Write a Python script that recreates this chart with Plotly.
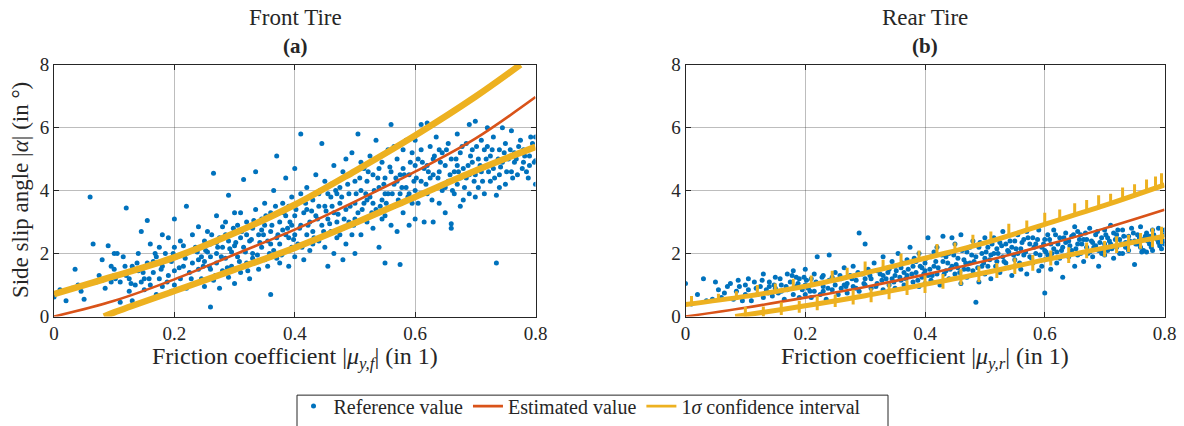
import plotly.graph_objects as go

# ---------------- data: front tire ----------------
front_ref_x = [
0.0,0.01,0.02,0.03,0.035,0.045,0.05,0.06,0.065,0.075,0.08,0.085,0.09,0.095,0.1,0.1,0.095,0.07,0.04,0.08,
0.10,0.105,0.11,0.11,0.115,0.12,0.12,0.125,0.13,0.13,0.135,0.14,0.14,0.145,0.15,0.15,0.155,0.155,0.16,0.16,
0.165,0.17,0.17,0.175,0.175,0.18,0.18,0.185,0.19,0.19,0.195,0.195,0.2,0.2,0.2,0.2,0.18,0.165,0.125,0.145,
0.205,0.21,0.21,0.215,0.22,0.22,0.22,0.225,0.23,0.23,0.235,0.235,0.24,0.24,0.245,0.245,0.25,0.25,0.25,0.255,
0.255,0.26,0.26,0.26,0.265,0.265,0.27,0.27,0.27,0.275,0.275,0.28,0.28,0.28,0.285,0.285,0.29,0.29,0.29,0.295,
0.295,0.3,0.3,0.3,0.3,0.215,0.24,0.27,0.26,0.285,
0.305,0.305,0.31,0.31,0.315,0.315,0.32,0.32,0.325,0.325,0.33,0.33,0.335,0.335,0.34,0.34,0.345,0.345,0.35,0.35,
0.35,0.355,0.355,0.36,0.36,0.36,0.365,0.365,0.37,0.37,0.37,0.375,0.375,0.38,0.38,0.38,0.385,0.385,0.39,0.39,
0.39,0.395,0.395,0.4,0.4,0.4,0.4,0.31,0.33,0.345,0.36,0.375,0.385,0.395,0.32,
0.405,0.405,0.41,0.41,0.415,0.415,0.42,0.42,0.425,0.425,0.43,0.43,0.435,0.435,0.44,0.44,0.445,0.445,0.45,0.45,
0.45,0.455,0.455,0.46,0.46,0.465,0.465,0.47,0.47,0.475,0.475,0.48,0.48,0.48,0.485,0.485,0.49,0.49,0.495,0.495,
0.5,0.5,0.5,0.5,0.41,0.43,0.44,0.46,0.47,0.49,0.42,0.465,0.485,0.455,0.475,
0.505,0.505,0.51,0.51,0.515,0.515,0.52,0.52,0.525,0.525,0.53,0.53,0.535,0.535,0.54,0.54,0.545,0.545,0.55,0.55,
0.55,0.555,0.555,0.56,0.56,0.56,0.565,0.565,0.57,0.57,0.575,0.575,0.58,0.58,0.585,0.585,0.59,0.59,0.595,0.595,
0.6,0.6,0.6,0.52,0.54,0.55,0.57,0.58,0.59,0.51,0.53,0.565,0.545,0.575,0.6,
0.605,0.605,0.61,0.61,0.615,0.615,0.62,0.62,0.625,0.625,0.63,0.63,0.635,0.635,0.64,0.64,0.645,0.645,0.65,0.65,
0.655,0.655,0.66,0.66,0.66,0.665,0.665,0.67,0.67,0.675,0.675,0.68,0.68,0.685,0.685,0.69,0.69,0.695,0.695,0.7,
0.7,0.7,0.62,0.64,0.65,0.67,0.69,0.61,0.63,0.675,
0.705,0.705,0.71,0.71,0.715,0.715,0.72,0.72,0.725,0.725,0.73,0.73,0.735,0.735,0.74,0.74,0.745,0.745,0.75,0.75,
0.755,0.76,0.76,0.765,0.77,0.775,0.78,0.78,0.785,0.79,0.795,0.8,0.8,0.8,0.72,0.74,0.765,0.79,
0.252,0.258,0.262,0.268,0.272,0.278,0.282,0.288,0.292,0.298,0.302,0.308,0.312,0.318,0.322,0.328,0.332,0.338,0.342,0.348,
0.352,0.358,0.362,0.368,0.372,0.378,0.382,0.388,0.392,0.398,0.402,0.408,0.412,0.418,0.422,0.428,0.432,0.438,0.442,0.448,
0.452,0.458,0.462,0.468,0.472,0.478,0.482,0.488,0.492,0.498,0.502,0.508,0.512,0.518,0.522,0.528,0.532,0.538,0.542,0.548,
0.552,0.558,0.562,0.568,0.572,0.578,0.582,0.588,0.592,0.598,0.602,0.608,0.612,0.618,0.622,0.628,0.632,0.638,0.642,0.648,
0.652,0.658,0.662,0.668,0.672,0.678,0.682,0.688,0.692,0.698,0.702,0.708,0.712,0.718,0.722,0.728,0.732,0.738,0.742,0.748,
0.752,0.758,0.762,0.768,0.772,0.778,0.782,0.788,0.792,0.798,
0.102,0.118,0.128,0.138,0.148,0.158,0.168,0.178,0.188,0.198,0.208,0.218,0.228,0.238,0.248,
]
front_ref_y = [
0.62,0.85,0.5,0.9,1.5,0.8,0.55,3.8,2.3,1.3,1.8,0.9,2.25,1.6,1.3,2.0,1.1,1.1,1.0,1.15,
1.5,2.0,0.45,1.1,1.9,3.45,1.3,0.8,1.6,0.5,1.0,1.45,2.0,2.7,1.2,0.85,3.05,1.7,2.3,1.0,
1.4,1.9,0.7,1.2,2.2,1.6,0.95,2.0,1.3,2.5,1.75,0.8,3.1,2.2,1.45,1.0,2.6,1.75,1.2,1.1,
1.9,1.2,2.4,1.6,3.5,0.9,2.0,1.4,2.6,1.7,1.05,2.2,1.5,2.85,1.9,1.2,2.4,0.95,1.75,2.7,
2.05,0.3,1.5,2.3,4.55,1.15,2.0,3.2,1.7,2.5,0.9,2.85,1.45,2.2,1.85,3.0,3.85,1.25,2.4,2.05,
1.6,2.7,1.05,2.25,3.3,2.25,1.8,2.35,1.9,2.6,
1.9,2.9,1.4,2.5,4.35,2.2,1.7,3.0,2.4,1.2,2.8,2.0,4.6,3.4,1.5,2.6,2.2,3.1,1.8,2.9,
3.6,2.4,1.6,0.7,2.7,3.3,2.1,4.0,5.1,2.5,1.85,3.0,2.3,3.6,2.0,2.75,4.4,3.2,1.6,2.5,
3.5,2.9,2.2,3.2,4.7,2.6,1.9,3.3,1.85,2.75,2.3,1.7,2.6,3.8,2.6,
2.3,3.6,5.8,2.9,1.8,3.3,2.6,4.1,3.0,2.1,3.7,2.7,4.5,3.2,2.4,3.9,5.5,2.9,3.5,2.2,
4.3,1.6,3.1,2.7,3.8,4.8,3.3,2.5,3.0,4.1,3.6,1.8,2.8,4.6,3.4,2.3,3.9,3.0,5.2,2.6,
3.6,4.3,2.0,3.1,3.9,2.3,3.5,4.2,3.9,4.5,3.4,2.0,5.0,3.9,2.6,
5.8,3.3,4.0,2.6,4.7,3.6,3.0,4.3,5.1,3.8,2.8,4.5,3.4,5.6,2.2,4.1,3.7,4.9,1.7,3.2,
4.4,5.3,3.9,6.1,2.9,4.6,3.5,4.2,5.0,2.7,1.65,3.9,4.7,3.3,5.6,4.1,2.9,4.5,3.6,5.2,
4.0,3.1,4.8,3.7,4.7,3.9,4.3,5.3,3.9,4.9,3.6,5.4,3.1,4.5,5.6,
3.6,5.0,6.1,4.3,3.0,4.7,6.15,3.9,5.4,4.4,3.0,5.0,4.1,5.7,3.6,4.6,5.2,4.0,3.3,4.8,
5.5,4.3,2.8,2.95,5.0,3.9,4.6,5.8,4.2,3.5,5.2,4.7,3.7,5.5,4.4,6.1,3.9,4.9,5.3,4.5,
3.8,6.2,4.8,5.3,4.1,4.8,4.5,5.3,4.5,4.4,
5.0,4.1,5.6,4.6,3.9,5.3,4.8,6.0,4.3,5.1,5.7,4.7,1.7,3.85,5.3,4.5,6.0,4.9,4.2,5.5,
5.0,4.6,5.9,5.2,4.5,5.6,4.9,5.3,4.6,5.1,5.5,4.2,5.7,4.95,5.4,4.1,4.9,4.8,
2.1,1.6,2.6,1.3,2.2,1.9,2.5,1.55,2.15,2.8,2.35,1.75,2.7,2.05,1.45,2.45,3.05,1.95,2.35,2.6,
3.2,2.0,2.9,3.5,2.6,1.95,3.3,2.8,3.0,2.45,3.4,2.8,2.2,3.6,2.9,3.35,2.5,3.1,4.0,2.7,
3.35,2.95,3.5,4.0,3.25,3.8,3.1,4.2,3.5,2.9,3.9,4.4,3.4,3.9,4.6,3.3,4.0,4.4,3.5,4.2,
3.6,4.75,3.9,4.4,3.7,4.1,4.5,3.8,4.9,4.3,4.4,3.9,4.9,4.2,4.6,3.7,5.1,4.4,4.9,4.2,
5.3,4.5,4.0,5.0,4.6,5.4,4.1,4.8,5.1,4.3,5.4,4.8,4.3,5.0,4.6,5.3,4.4,5.0,4.75,5.2,
4.6,5.3,4.4,5.0,5.4,4.7,5.1,4.4,5.7,4.9,
1.2,1.6,1.05,1.7,1.4,1.2,2.0,1.5,1.1,2.0,1.55,1.85,1.2,2.05,1.6,
]
front_est_x = [0, 0.1, 0.2, 0.3, 0.4, 0.5, 0.6, 0.7, 0.8]
front_est_y = [0, 0.5, 1.18, 1.97, 2.76, 3.65, 4.6, 5.65, 6.97]
front_up_x = [0, 0.1, 0.2, 0.3, 0.4, 0.5, 0.6, 0.7, 0.775]
front_up_y = [0.71, 1.28, 1.88, 2.65, 3.55, 4.62, 5.75, 6.98, 8.0]
front_lo_x = [0.083, 0.1, 0.2, 0.3, 0.4, 0.5, 0.6, 0.7, 0.8]
front_lo_y = [0, 0.13, 0.81, 1.49, 2.18, 2.97, 3.8, 4.63, 5.39]

# ---------------- data: rear tire ----------------
rear_ref_x = [
0.0,0.01,0.02,0.03,0.035,0.045,0.05,0.06,0.065,0.075,0.08,0.085,0.09,0.095,0.1,0.1,
0.105,0.11,0.115,0.12,0.125,0.13,0.13,0.135,0.14,0.145,0.15,0.15,0.155,0.16,0.165,0.17,0.17,0.175,0.18,0.18,
0.185,0.19,0.19,0.195,0.2,0.2,0.2,0.16,0.14,0.185,
0.205,0.21,0.21,0.215,0.22,0.22,0.225,0.23,0.23,0.235,0.24,0.24,0.245,0.25,0.25,0.255,0.26,0.26,0.265,0.27,
0.27,0.275,0.28,0.28,0.285,0.29,0.29,0.295,0.3,0.3,0.3,0.215,0.245,0.265,0.285,0.23,
0.305,0.31,0.31,0.315,0.32,0.325,0.33,0.33,0.335,0.34,0.34,0.345,0.35,0.35,0.355,0.36,0.36,0.365,0.37,0.37,
0.375,0.38,0.38,0.385,0.39,0.39,0.395,0.4,0.4,0.4,0.32,0.345,0.365,0.385,0.35,0.395,0.33,
0.405,0.405,0.41,0.41,0.415,0.42,0.42,0.425,0.43,0.43,0.435,0.44,0.44,0.445,0.45,0.45,0.455,0.46,0.46,0.465,
0.47,0.47,0.475,0.48,0.48,0.485,0.485,0.49,0.49,0.495,0.5,0.5,0.5,0.415,0.435,0.455,0.475,0.495,0.445,0.465,
0.505,0.505,0.51,0.51,0.515,0.52,0.52,0.525,0.53,0.53,0.535,0.54,0.54,0.545,0.55,0.55,0.555,0.56,0.56,0.565,
0.57,0.57,0.575,0.58,0.58,0.585,0.59,0.59,0.595,0.6,0.6,0.6,0.6,0.515,0.525,0.545,0.565,0.575,0.585,0.595,
0.535,0.555,
0.605,0.605,0.61,0.61,0.615,0.62,0.62,0.625,0.63,0.63,0.635,0.64,0.64,0.645,0.65,0.65,0.655,0.66,0.66,0.665,
0.67,0.67,0.675,0.68,0.68,0.685,0.69,0.69,0.695,0.7,0.7,0.7,0.615,0.625,0.635,0.645,0.655,0.665,0.675,0.685,
0.695,0.655,
0.705,0.705,0.71,0.71,0.715,0.72,0.72,0.725,0.73,0.73,0.735,0.74,0.74,0.745,0.75,0.75,0.755,0.76,0.76,0.765,
0.77,0.77,0.775,0.78,0.78,0.785,0.79,0.79,0.795,0.8,0.8,0.8,0.715,0.735,0.755,0.775,0.725,0.765,
0.202,0.208,0.218,0.228,0.238,0.248,0.258,0.268,0.278,0.288,0.298,0.308,0.318,0.328,0.338,0.348,
0.352,0.358,0.362,0.368,0.372,0.378,0.382,0.388,0.392,0.398,0.402,0.408,0.412,0.418,0.422,0.428,0.432,0.438,0.442,0.448,
0.452,0.458,0.462,0.468,0.472,0.478,0.482,0.488,0.492,0.498,
0.502,0.508,0.512,0.518,0.522,0.528,0.532,0.538,0.542,0.548,0.552,0.558,0.562,0.568,0.572,0.578,0.582,0.588,0.592,0.598,
0.602,0.608,0.612,0.618,0.622,0.628,0.632,0.638,0.642,0.648,
0.652,0.658,0.662,0.668,0.672,0.678,0.682,0.688,0.692,0.698,0.702,0.708,0.712,0.718,0.722,0.728,0.732,0.738,0.742,0.748,
0.752,0.758,0.762,0.768,0.772,0.778,0.782,0.788,0.792,0.798,
0.055,0.07,0.088,0.105,0.118,0.128,0.138,0.148,0.158,0.168,0.178,0.188,0.198,
]
rear_ref_y = [
1.05,0.4,0.7,1.2,0.5,0.55,1.1,0.6,0.75,1.05,0.55,0.8,0.95,0.5,0.7,1.0,
0.85,0.5,1.1,0.7,0.95,1.35,0.6,0.85,1.1,0.65,0.9,1.25,0.75,1.0,0.55,1.35,0.85,1.1,0.7,1.45,
0.95,0.6,1.2,0.85,1.5,1.0,0.7,0.8,0.95,1.25,
0.9,1.2,0.6,0.8,1.9,1.05,0.7,1.3,0.95,0.55,1.95,1.15,0.85,1.4,1.0,0.7,1.2,0.9,1.55,1.05,
0.75,1.3,0.95,1.6,1.15,2.65,0.8,1.35,2.3,1.0,1.2,1.35,1.25,1.0,0.9,0.8,
1.5,0.9,1.2,1.7,1.05,1.35,0.85,1.9,1.2,1.5,1.0,1.75,1.3,0.9,2.0,1.15,1.55,1.0,1.8,1.3,
2.2,1.1,1.6,1.4,0.95,2.0,1.25,1.7,1.45,1.05,1.45,1.2,1.4,1.75,1.6,1.55,1.3,
1.3,2.5,1.9,1.15,1.6,2.2,1.35,1.0,1.75,2.55,1.45,1.2,2.0,1.6,2.3,1.35,1.85,1.05,2.6,1.5,
2.05,1.25,1.7,2.4,1.45,0.45,1.9,1.1,2.2,1.6,1.85,2.5,1.35,2.05,1.9,1.55,2.2,2.0,2.5,1.8,
1.6,2.2,1.95,1.2,2.5,1.75,2.15,1.4,2.7,1.9,2.3,1.55,2.05,1.3,2.4,1.8,2.6,1.5,2.15,1.95,
2.7,1.35,2.3,1.7,2.5,2.0,1.45,2.75,2.2,1.8,0.75,2.45,2.1,2.0,2.35,2.2,2.45,1.9,2.3,1.6,
1.7,2.0,
2.6,1.95,2.3,1.5,2.75,2.05,1.7,2.5,2.2,1.25,2.65,1.9,2.4,2.1,2.85,1.6,2.3,2.0,2.6,1.75,
2.45,2.2,2.8,1.9,2.35,2.6,2.1,1.6,2.5,2.3,2.75,1.95,2.15,1.85,2.35,2.55,1.95,2.45,2.05,2.25,
2.0,2.7,
2.5,2.1,2.9,2.3,1.85,2.6,2.2,2.45,2.0,2.75,2.35,2.55,2.1,2.8,1.65,2.4,2.6,2.2,2.85,2.45,
2.05,2.65,2.3,2.75,2.1,2.5,2.35,2.8,2.15,2.6,2.3,2.75,2.65,2.2,2.3,2.55,2.0,2.1,
1.15,0.8,1.1,1.25,0.9,1.15,1.3,0.95,1.2,1.4,1.05,1.3,0.95,1.15,1.4,1.1,
1.45,1.25,1.7,1.2,1.5,1.35,1.85,1.15,1.6,1.35,1.85,1.5,1.3,1.75,1.55,1.95,1.35,1.7,1.5,1.95,
1.65,1.4,2.1,1.7,1.5,1.95,1.75,1.55,2.35,1.7,
2.05,1.8,2.3,1.6,2.0,2.25,1.75,2.1,2.4,1.95,2.15,1.7,2.35,2.05,2.5,1.85,2.2,2.45,1.95,2.3,
2.05,2.45,2.0,2.6,2.3,2.1,2.5,1.95,2.25,2.6,
2.15,2.45,2.3,2.65,2.0,2.4,2.2,2.7,2.35,2.1,2.6,2.4,2.15,2.45,2.75,2.3,2.55,2.2,2.4,2.65,
2.3,2.5,2.05,2.55,2.4,2.2,2.6,2.45,2.25,2.4,
0.85,0.95,1.15,1.2,0.9,1.15,0.75,1.0,1.2,0.95,1.3,1.05,1.25,
]
rear_est_x = [0, 0.1, 0.2, 0.3, 0.4, 0.5, 0.6, 0.7, 0.8]
rear_est_y = [0, 0.28, 0.6, 0.94, 1.33, 1.76, 2.26, 2.8, 3.39]
rear_up_x = [0, 0.1, 0.2, 0.3, 0.4, 0.5, 0.6, 0.7, 0.8]
rear_up_y = [0.38, 0.64, 0.96, 1.38, 1.85, 2.34, 2.93, 3.53, 4.18]
rear_lo_x = [0.083, 0.1, 0.2, 0.3, 0.4, 0.5, 0.6, 0.7, 0.8]
rear_lo_y = [0, 0.05, 0.34, 0.66, 1.02, 1.39, 1.8, 2.18, 2.55]
# vertical spikes on the rear confidence bands: x, bottom, top
rear_up_spk_x = [0.01,0.055,0.085,0.12,0.15,0.18,0.21,0.245,0.27,0.3,0.33,0.36,0.39,0.42,0.45,0.48,0.51,0.54,0.57,0.6,0.625,0.65,0.67,0.69,0.71,0.73,0.75,0.77,0.785,0.795]
rear_up_spk_lo = [0.36,0.47,0.55,0.66,0.76,0.86,0.96,1.12,1.22,1.34,1.48,1.62,1.76,1.9,2.05,2.2,2.35,2.53,2.71,2.9,3.05,3.2,3.32,3.44,3.56,3.68,3.8,3.92,4.03,4.1]
rear_up_spk_hi = [0.65,0.72,0.8,1.0,1.05,1.2,1.3,1.45,1.55,1.75,1.8,2.0,2.1,2.3,2.35,2.6,2.7,2.95,3.05,3.3,3.4,3.6,3.7,3.85,3.9,4.1,4.2,4.35,4.45,4.55]
rear_lo_spk_x = [0.1,0.13,0.16,0.19,0.22,0.25,0.28,0.31,0.34,0.37,0.4,0.43,0.46,0.49,0.52,0.55,0.58,0.61,0.64,0.67,0.7,0.72,0.74,0.76,0.78,0.795]
rear_lo_spk_lo = [0.0,0.0,0.05,0.12,0.2,0.3,0.38,0.45,0.55,0.68,0.75,0.88,1.0,1.1,1.22,1.35,1.45,1.62,1.7,1.85,1.9,2.02,2.05,2.15,2.2,2.3]
rear_lo_spk_hi = [0.3,0.32,0.45,0.5,0.65,0.7,0.85,0.9,1.05,1.15,1.3,1.35,1.5,1.6,1.7,1.85,1.95,2.1,2.2,2.35,2.4,2.55,2.6,2.65,2.8,2.85]

xticks = [0, 0.2, 0.4, 0.6, 0.8]
xtick_text = ["0", "0.2", "0.4", "0.6", "0.8"]
yticks = [0, 2, 4, 6, 8]
ytick_text = ["0", "2", "4", "6", "8"]

BLUE = "#0072BD"
RED = "#D95319"
YEL = "#EDB120"
INK = "#262626"
FONT = "Liberation Serif"

fig = go.Figure()

def segs(xs, lo, hi):
    X, Y = [], []
    for a, b, c in zip(xs, lo, hi):
        X += [a, a, None]
        Y += [b, c, None]
    return X, Y

panels = [
    (front_ref_x, front_ref_y, front_est_x, front_est_y, front_up_x, front_up_y, front_lo_x, front_lo_y, "x", "y"),
    (rear_ref_x, rear_ref_y, rear_est_x, rear_est_y, rear_up_x, rear_up_y, rear_lo_x, rear_lo_y, "x2", "y2"),
]
for i, (rx, ry, ex, ey, ux, uy, lx, ly, xa, ya) in enumerate(panels):
    lw = 6.5 if i == 0 else 5
    fig.add_trace(go.Scatter(x=rx, y=ry, mode="markers", name="Reference value",
                             marker=dict(color=BLUE, size=5), showlegend=(i == 0),
                             xaxis=xa, yaxis=ya))
    fig.add_trace(go.Scatter(x=ex, y=ey, mode="lines", name="Estimated value",
                             line=dict(color=RED, width=2.6, shape="spline"), showlegend=(i == 0),
                             xaxis=xa, yaxis=ya))
    fig.add_trace(go.Scatter(x=ux, y=uy, mode="lines", name="1<i>σ</i> confidence interval",
                             legendgroup="ci", line=dict(color=YEL, width=lw, shape="spline"),
                             showlegend=False, xaxis=xa, yaxis=ya))
    fig.add_trace(go.Scatter(x=lx, y=ly, mode="lines", legendgroup="ci",
                             line=dict(color=YEL, width=lw, shape="spline"),
                             showlegend=False, xaxis=xa, yaxis=ya))
    if i == 1:
        for sx, slo, shi in [(rear_up_spk_x, rear_up_spk_lo, rear_up_spk_hi),
                             (rear_lo_spk_x, rear_lo_spk_lo, rear_lo_spk_hi)]:
            X, Y = segs(sx, slo, shi)
            fig.add_trace(go.Scatter(x=X, y=Y, mode="lines", legendgroup="ci", line=dict(color=YEL, width=3),
                                     showlegend=False, xaxis=xa, yaxis=ya, hoverinfo="skip"))

# legend entry for the confidence interval with a thin line, as in the original legend
fig.add_trace(go.Scatter(x=[None], y=[None], mode="lines", name="1<i>σ</i> confidence interval",
                         legendgroup="ci", line=dict(color=YEL, width=2.6), showlegend=True,
                         xaxis="x", yaxis="y"))

W, H = 1184, 426

def fx(px):
    return px / W

def fy(py):
    return 1 - py / H

axis_common = dict(showline=True, linecolor=INK, linewidth=1, mirror="ticks",
                   ticks="inside", ticklen=5, tickcolor=INK, automargin=False,
                   showgrid=True, gridcolor="rgba(38,38,38,0.3)", gridwidth=1,
                   zeroline=False, tickfont=dict(family=FONT, size=19, color=INK))

fig.update_layout(
    width=W, height=H, autosize=False,
    margin=dict(l=0, r=0, t=0, b=0, pad=0),
    paper_bgcolor="white", plot_bgcolor="white",
    xaxis=dict(domain=[fx(54), fx(535.5)], range=[0, 0.8], tickvals=xticks, ticktext=xtick_text, anchor="y", **axis_common),
    yaxis=dict(domain=[fy(318), fy(65)], range=[0, 8], tickvals=yticks, ticktext=ytick_text, anchor="x", **axis_common),
    xaxis2=dict(domain=[fx(685.5), fx(1164.5)], range=[0, 0.8], tickvals=xticks, ticktext=xtick_text, anchor="y2", **axis_common),
    yaxis2=dict(domain=[fy(318), fy(65)], range=[0, 8], tickvals=yticks, ticktext=ytick_text, anchor="x2", **axis_common),
    legend=dict(orientation="h", x=fx(580), xanchor="center", y=fy(408), yanchor="middle",
                borderwidth=0, bgcolor="rgba(0,0,0,0)",
                font=dict(family=FONT, size=20, color=INK),
                itemsizing="trace", tracegroupgap=0),
    showlegend=True,
    shapes=[dict(type="rect", xref="paper", yref="paper", x0=fx(297), x1=fx(888), y0=fy(397), y1=fy(432),
                 line=dict(color=INK, width=1), fillcolor="rgba(0,0,0,0)", layer="below")],
)

ann = []
def A(x, y, text, size, angle=0, bold=False):
    ann.append(dict(x=fx(x), y=fy(y), xref="paper", yref="paper", text=("<b>%s</b>" % text) if bold else text,
                    showarrow=False, xanchor="center", yanchor="middle", textangle=angle,
                    font=dict(family=FONT, size=size, color=INK)))

A(295, 18, "Front Tire", 23)
A(295, 46, "(a)", 21, bold=True)
A(925, 18, "Rear Tire", 23)
A(925, 46, "(b)", 21, bold=True)
A(295, 360, "Friction coefficient |<i>μ</i><sub><i>y,f</i></sub>| (in 1)", 24)
A(925, 360, "Friction coefficient |<i>μ</i><sub><i>y,r</i></sub>| (in 1)", 24)
A(20, 191, "Side slip angle |<i>α</i>| (in °)", 23, angle=-90)
fig.update_layout(annotations=ann)

fig.write_html("out.html")
